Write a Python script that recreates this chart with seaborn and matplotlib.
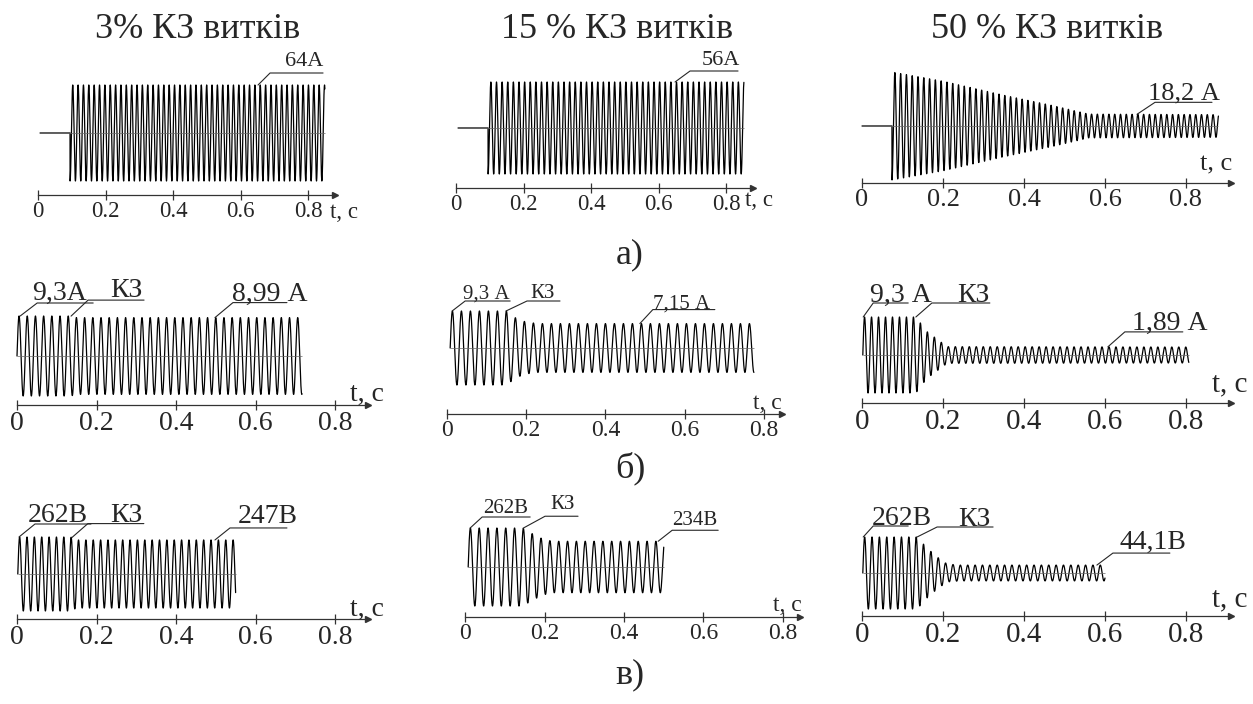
import numpy as np
import pandas as pd
import matplotlib
matplotlib.use("Agg")
import matplotlib.pyplot as plt
import seaborn as sns
from matplotlib.lines import Line2D

# ----------------------------------------------------------------------
# Data
# ----------------------------------------------------------------------
titles = ["3% КЗ витків", "15 % КЗ витків", "50 % КЗ витків"]
row_labels = ["а)", "б)", "в)"]
tick_values = [0, 0.2, 0.4, 0.6, 0.8]
tick_labels = ["0", "0.2", "0.4", "0.6", "0.8"]
axis_label = "t, c"

# signal start / fault moment / end (s) and frequency (Hz), panels row by row
t_start = [0.006, 0.006, 0.0, 0.0, 0.008, 0.002, 0.002, 0.008, 0.002]
t_fault = [0.095, 0.095, 0.074, 0.135, 0.150, 0.133, 0.135, 0.145, 0.136]
t_end = [0.850, 0.853, 0.880, 0.717, 0.775, 0.807, 0.550, 0.500, 0.600]
freq = [63, 60, 70, 48.5, 44, 58, 54, 45, 55]

# relative amplitude before the fault (row а: no current before the fault)
amp_pre = [0, 0, 0, 1, 1, 1, 1, 1, 1]

# envelope after the fault (time s, relative amplitude)
env_t = [
    [0.095, 0.850],
    [0.095, 0.853],
    [0.074, 0.20, 0.35, 0.47, 0.56, 0.88],
    [0.135, 0.15, 0.717],
    [0.150, 0.175, 0.20, 0.23, 0.775],
    [0.133, 0.16, 0.185, 0.21, 0.807],
    [0.135, 0.15, 0.55],
    [0.145, 0.17, 0.195, 0.22, 0.50],
    [0.136, 0.16, 0.185, 0.21, 0.24, 0.60],
]
env_a = [
    [1.0, 1.0],
    [1.0, 1.0],
    [1.0, 0.83, 0.57, 0.38, 0.22, 0.21],
    [1.0, 0.96, 0.96],
    [1.0, 0.80, 0.70, 0.66, 0.66],
    [1.0, 0.62, 0.42, 0.22, 0.21],
    [1.0, 0.92, 0.92],
    [1.0, 0.85, 0.72, 0.66, 0.66],
    [1.0, 0.70, 0.45, 0.25, 0.22, 0.22],
]

# value labels: text and the time they point at
label_text = [
    ["64А"], ["56А"], ["18,2 А"],
    ["9,3А", "КЗ", "8,99 А"], ["9,3 А", "КЗ", "7,15 А"], ["9,3 А", "КЗ", "1,89 А"],
    ["262В", "КЗ", "247В"], ["262В", "КЗ", "234В"], ["262В", "КЗ", "44,1В"],
]
label_t = [
    [0.652], [0.649], [0.679],
    [0.008, 0.136, 0.498], [0.013, 0.149, 0.487], [0.003, 0.133, 0.607],
    [0.005, 0.138, 0.498], [0.013, 0.146, 0.486], [0.003, 0.136, 0.58],
]

# ----------------------------------------------------------------------
# Layout (pixels of the 1253x704 picture)
# ----------------------------------------------------------------------
W, H = 1253, 704
# x of t=0, px per second, y of time axis, y of zero line, px per unit amplitude, arrow t
geom = [
    (38, 337.5, 195, 133, 48, 0.88),
    (456, 337.5, 188, 128, 46, 0.88),
    (862, 405, 183, 126, 54, 0.91),
    (17, 397.5, 405, 356, 40, 0.883),
    (447, 396, 414, 348, 37, 0.846),
    (862, 405, 403, 355, 38, 0.91),
    (17, 397.5, 619, 574, 37, 0.883),
    (465, 397.5, 617, 567, 39, 0.843),
    (862, 405, 616, 573, 36, 0.91),
]
tick_size = [16.5, 16.5, 19, 20, 17, 21, 20, 17, 21]
label_size = [16, 16, 19, 20, 15, 20, 20, 15, 20]
tc_pos = [(330, 218), (745, 206), (1200, 170), (350, 401), (753, 409),
          (1212, 391), (350, 616), (773, 611), (1212, 606)]
# leader: knee dx, dy, underline length, text x shift, text gap above underline
leader = [
    [(12, 12, 53, 15, 7)],
    [(15, 11, 48, 12, 6)],
    [(18, 12, 57, -7, 3)],
    [(17, 13, 56, -5, 3), (17, 16, 56, 22, 3), (18, 15, 54, -1, 2)],
    [(13, 10, 45, -2, 2), (21, 10, 33, 3, 3), (13, 14, 62, 0, 1)],
    [(10, 14, 35, -3, 1), (16, 14, 58, 25, 1), (17, 15, 58, 7, 2)],
    [(16, 13, 56, -7, 2), (16, 14, 56, 22, 2), (15, 12, 57, 8, 5)],
    [(12, 11, 48, 1, 4), (22, 12, 33, 5, 7), (14, 11, 46, 0, 5)],
    [(10, 11, 35, -1, 1), (20, 10, 56, 21, 1), (16, 12, 57, 7, 4)],
]

sns.set_style("white")
plt.rcParams['font.family'] = ['Liberation Serif', 'DejaVu Serif']

fig = plt.figure(figsize=(W / 100, H / 100), dpi=100)
fig.patch.set_facecolor("white")


def envelope(i, t):
    return np.where(t < t_fault[i], amp_pre[i], np.interp(t, env_t[i], env_a[i]))


def signal(i):
    t = np.linspace(t_start[i], t_end[i], 6000)
    a = envelope(i, t)
    if amp_pre[i] == 0:
        y = np.where(t < t_fault[i], 0.0,
                     -a * np.cos(2 * np.pi * freq[i] * (t - t_fault[i])))
    else:
        y = a * np.sin(2 * np.pi * freq[i] * (t - t_start[i]))
    return pd.DataFrame({"t": t, "y": y})


def fig_xy(px, py):
    return px / W, 1 - py / H


for i, (x0, pps, y_ax, y_c, amp_px, t_arr) in enumerate(geom):
    top = y_c - 1.3 * amp_px
    ax = fig.add_axes([x0 / W, 1 - y_ax / H, pps * t_arr / W, (y_ax - top) / H])
    ax.set_facecolor("none")
    ax.set_xlim(0, t_arr)
    ax.set_ylim(-(y_ax - y_c) / amp_px, 1.3)

    df = signal(i)
    sns.lineplot(data=df, x="t", y="y", ax=ax, color="black", lw=0.9,
                 estimator=None, sort=False, clip_on=False)
    ax.hlines(0, t_start[i], t_end[i], color="0.4", lw=0.5)

    for s in ["top", "right", "left"]:
        ax.spines[s].set_visible(False)
    ax.spines["bottom"].set_bounds(0, t_arr)
    ax.spines["bottom"].set_color("0.2")
    ax.spines["bottom"].set_linewidth(0.9)
    ax.plot(1, 0, ">", color="0.2", ms=5, transform=ax.transAxes, clip_on=False)
    ax.set_xticks(tick_values)
    ax.set_xticklabels(tick_labels)
    ax.set_yticks([])
    ax.tick_params(axis="x", bottom=True, direction="inout", length=7, width=0.9,
                   color="0.2", pad=1, labelsize=tick_size[i])
    ax.set_xlabel("")
    ax.set_ylabel("")

    tx, ty = tc_pos[i]
    fig.text(*fig_xy(tx, ty), axis_label, ha="left", va="baseline",
             fontsize=tick_size[i])

    # value labels with leader lines
    fig.canvas.draw()
    for txt, tl, (dx, dy, L, sx, gap) in zip(label_text[i], label_t[i], leader[i]):
        ax_px, ay_disp = ax.transData.transform((tl, float(envelope(i, np.array(tl)))))
        ay_px = H - ay_disp
        kx, ky = ax_px + dx, ay_px - dy
        xs = [ax_px, kx, kx + L]
        ys = [ay_px, ky, ky]
        fig.add_artist(Line2D([x / W for x in xs], [1 - y / H for y in ys],
                              transform=fig.transFigure, color="0.15", lw=0.8))
        fig.text(*fig_xy(kx + sx, ky - gap), txt, ha="left", va="baseline",
                 fontsize=label_size[i])

# titles and row captions
for x, t in zip([198, 617, 1047], titles):
    fig.text(*fig_xy(x, 29), t, ha="center", va="center", fontsize=26)
for y, t in zip([255, 468, 675], row_labels):
    fig.text(*fig_xy(630, y), t, ha="center", va="center", fontsize=26)

fig.savefig("out.png", dpi=100, facecolor="white")
